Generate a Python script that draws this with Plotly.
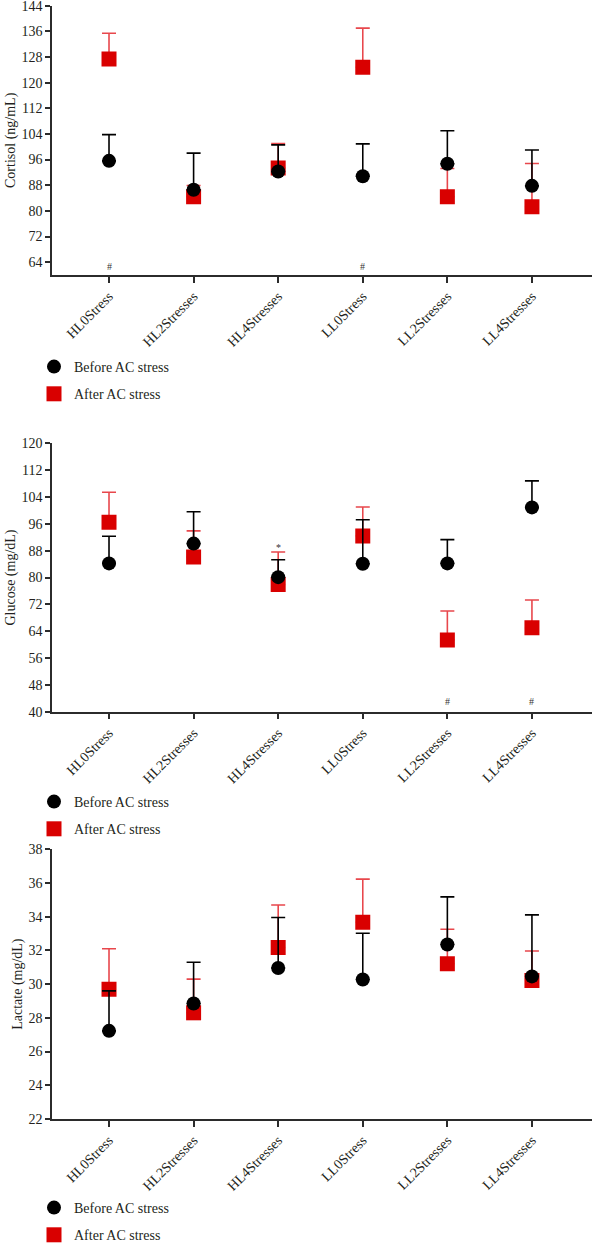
import plotly.graph_objects as go

categories = ["HL0Stress", "HL2Stresses", "HL4Stresses", "LL0Stress", "LL2Stresses", "LL4Stresses"]

cortisol_before = [95.6, 86.6, 92.3, 90.8, 94.7, 87.8]
cortisol_before_err = [8.2, 11.4, 8.3, 10.1, 10.3, 11.2]
cortisol_after = [127.4, 84.4, 93.4, 124.8, 84.4, 81.3]
cortisol_after_err = [8.0, 3.5, 7.6, 12.2, 8.8, 13.5]

glucose_before = [84.2, 90.1, 80.1, 84.1, 84.2, 100.9]
glucose_before_err = [8.1, 9.5, 5.2, 13.1, 7.1, 7.9]
glucose_after = [96.5, 86.1, 77.9, 92.4, 61.4, 65.0]
glucose_after_err = [8.9, 7.8, 9.7, 8.6, 8.6, 8.3]

lactate_before = [27.23, 28.85, 30.96, 30.28, 32.35, 30.46]
lactate_before_err = [2.37, 2.45, 2.99, 2.74, 2.83, 3.65]
lactate_after = [29.7, 28.3, 32.17, 33.67, 31.21, 30.22]
lactate_after_err = [2.4, 2.0, 2.53, 2.56, 2.05, 1.75]

cortisol_marks = [("HL0Stress", 62.8, "#"), ("LL0Stress", 62.8, "#")]
glucose_marks = [("HL4Stresses", 89.0, "*"), ("LL2Stresses", 43.0, "#"), ("LL4Stresses", 43.0, "#")]

W, H = 593, 1244
FONT = "Liberation Serif"
BLACK = "#000000"
RED = "#d90000"
RED_ERR = "#e8474c"
AX = "#2b2b2b"
TXT = "#231f20"

def py(px):
    return 1 - px / H

panels = [
    dict(before=cortisol_before, berr=cortisol_before_err, after=cortisol_after, aerr=cortisol_after_err,
         rng=[60, 144], dtick=8, t0=64, title="Cortisol (ng/mL)", top=5.7, bot=275, leg=351, marks=cortisol_marks),
    dict(before=glucose_before, berr=glucose_before_err, after=glucose_after, aerr=glucose_after_err,
         rng=[40, 120], dtick=8, t0=40, title="Glucose (mg/dL)", top=443.3, bot=711.7, leg=786, marks=glucose_marks),
    dict(before=lactate_before, berr=lactate_before_err, after=lactate_after, aerr=lactate_after_err,
         rng=[22, 38], dtick=2, t0=22, title="Lactate (mg/dL)", top=849.3, bot=1119, leg=1192, marks=[]),
]

fig = go.Figure()
annotations = []
for i, p in enumerate(panels):
    n = "" if i == 0 else str(i + 1)
    xa, ya = "x" + n, "y" + n
    lg = "legend" + n
    fig.add_trace(go.Scatter(
        x=categories, y=p["after"], mode="markers", name="After AC stress",
        xaxis=xa, yaxis=ya, legend=lg, legendgroup="after" + n, legendrank=2,
        marker=dict(symbol="square", size=15, color=RED),
        error_y=dict(type="data", array=p["aerr"], arrayminus=[0] * 6, symmetric=False,
                     color=RED_ERR, thickness=1.6, width=7),
    ))
    fig.add_trace(go.Scatter(
        x=categories, y=p["before"], mode="markers", name="Before AC stress",
        xaxis=xa, yaxis=ya, legend=lg, legendgroup="before" + n, legendrank=1,
        marker=dict(symbol="circle", size=14, color=BLACK),
        error_y=dict(type="data", array=p["berr"], arrayminus=[0] * 6, symmetric=False,
                     color=BLACK, thickness=1.6, width=7),
    ))
    dom = [py(p["bot"]), py(p["top"])]
    fig.layout["xaxis" + n] = dict(
        domain=[52 / W, 592 / W], anchor=ya, type="category", range=[-0.674, 5.71],
        showline=True, linecolor=AX, linewidth=1.5, ticks="outside", ticklen=6,
        tickcolor=AX, tickwidth=1.5, tickangle=-45, showgrid=False, zeroline=False,
        automargin=False, ticklabeloverflow="allow",
        tickfont=dict(family=FONT, size=14, color=TXT),
    )
    fig.layout["yaxis" + n] = dict(
        domain=dom, anchor=xa, range=p["rng"], tick0=p["t0"], dtick=p["dtick"],
        showline=True, linecolor=AX, linewidth=1.5, ticks="outside", ticklen=5,
        tickcolor=AX, tickwidth=1.5, showgrid=False, zeroline=False, automargin=False,
        ticklabeloverflow="allow",
        tickfont=dict(family=FONT, size=14, color=TXT),
        title=dict(text=p["title"], font=dict(family=FONT, size=14, color=TXT), standoff=3),
    )
    fig.layout[lg] = dict(
        x=34 / W, xanchor="left", y=py(p["leg"]), yanchor="top",
        traceorder="grouped", tracegroupgap=6, bgcolor="rgba(0,0,0,0)",
        font=dict(family=FONT, size=14, color=TXT),
    )
    for cat, yv, txt in p["marks"]:
        annotations.append(dict(x=cat, y=yv, xref=xa, yref=ya, text=txt, showarrow=False,
                                font=dict(family=FONT, size=10, color="#333333")))

fig.update_layout(
    width=W, height=H, margin=dict(l=0, r=0, t=0, b=0, autoexpand=False),
    paper_bgcolor="white", plot_bgcolor="white", showlegend=True,
    annotations=annotations,
)

fig.write_html("out.html", config={"displayModeBar": False},
               post_script="document.body.style.margin='0';")
